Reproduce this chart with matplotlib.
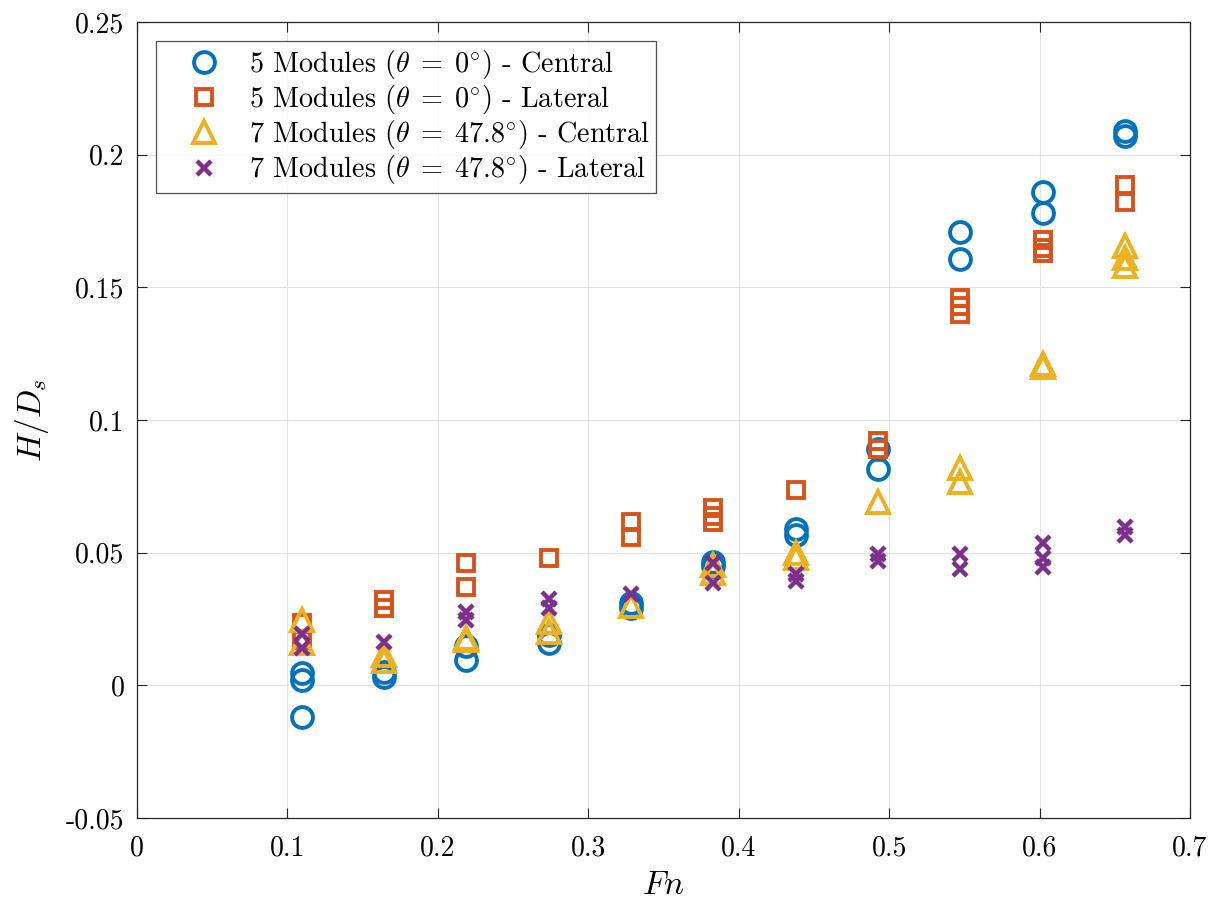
import matplotlib
matplotlib.use('Agg')
import matplotlib.pyplot as plt

plt.rcParams['font.family'] = ['cmr10', 'DejaVu Serif']
plt.rcParams['mathtext.fontset'] = 'cm'
plt.rcParams['axes.unicode_minus'] = False

# Froude numbers
fn = [0.1095, 0.1642, 0.219, 0.2737, 0.3284, 0.3832, 0.4379, 0.4926, 0.5474, 0.6021, 0.6568]

# H/Ds values per Fn (repeated runs)
central_5 = [[0.0045, 0.002, -0.012], [0.005, 0.003], [0.0095, 0.015], [0.0188, 0.016],
             [0.029, 0.031], [0.0465, 0.045], [0.059, 0.0565], [0.089, 0.0815],
             [0.1707, 0.1605], [0.186, 0.178], [0.209, 0.207]]
lateral_5 = [[0.0235, 0.017], [0.032, 0.029], [0.046, 0.037], [0.048],
             [0.0615, 0.056], [0.067, 0.064, 0.0615], [0.0735], [0.092, 0.089],
             [0.146, 0.143, 0.140], [0.168, 0.165, 0.163], [0.1885, 0.182]]
central_7 = [[0.0245, 0.016], [0.0115, 0.009], [0.018, 0.017], [0.024, 0.020],
             [0.030], [0.0455, 0.0425], [0.050, 0.048], [0.069],
             [0.082, 0.0765], [0.121, 0.1198], [0.1655, 0.161, 0.158]]
lateral_7 = [[0.0195, 0.014], [0.0163], [0.0276, 0.0245], [0.0325, 0.029],
             [0.0345], [0.046, 0.0385], [0.042, 0.0395], [0.0495, 0.047],
             [0.0495, 0.044], [0.0535, 0.048, 0.0445], [0.0595, 0.0565]]

labels = [r'5 Modules ($\theta\;=\;0^{\circ}$) - Central',
          r'5 Modules ($\theta\;=\;0^{\circ}$) - Lateral',
          r'7 Modules ($\theta\;=\;47.8^{\circ}$) - Central',
          r'7 Modules ($\theta\;=\;47.8^{\circ}$) - Lateral']

xticks = [0, 0.1, 0.2, 0.3, 0.4, 0.5, 0.6, 0.7]
xticklabels = ['0', '0.1', '0.2', '0.3', '0.4', '0.5', '0.6', '0.7']
yticks = [-0.05, 0, 0.05, 0.1, 0.15, 0.2, 0.25]
yticklabels = ['-0.05', '0', '0.05', '0.1', '0.15', '0.2', '0.25']


def flatten(series):
    xs, ys = [], []
    for f, vals in zip(fn, series):
        for v in vals:
            xs.append(f)
            ys.append(v)
    return xs, ys


fig = plt.figure(figsize=(12.2, 9.09), dpi=100)
ax = fig.add_axes([0.1123, 0.1001, 0.8631, 0.8757])

styles = [
    (central_5, dict(marker='o', color='#0072BD', ms=15, mew=2.8)),
    (lateral_5, dict(marker='s', color='#D95319', ms=12, mew=2.8)),
    (central_7, dict(marker='^', color='#EDB120', ms=16, mew=2.8)),
    (lateral_7, dict(marker='x', color='#7E2F8E', ms=9.5, mew=3.2)),
]
for (series, st), lab in zip(styles, labels):
    xs, ys = flatten(series)
    ax.plot(xs, ys, linestyle='none', marker=st['marker'], markersize=st['ms'],
            markerfacecolor='none', markeredgecolor=st['color'],
            markeredgewidth=st['mew'], label=lab)

ax.set_xlim(0, 0.7)
ax.set_ylim(-0.05, 0.25)
ax.set_xticks(xticks)
ax.set_xticklabels(xticklabels)
ax.set_yticks(yticks)
ax.set_yticklabels(yticklabels)
ax.tick_params(direction='in', length=7, width=0.8, labelsize=20,
               top=True, right=True, colors='#262626', labelcolor='black')
ax.tick_params(axis='x', pad=12)
ax.tick_params(axis='y', pad=9)
ax.grid(True, color='#e3e3e3', linewidth=0.8)
ax.set_axisbelow(True)
for sp in ax.spines.values():
    sp.set_color('#262626')
    sp.set_linewidth(0.9)

ax.set_xlabel(r'$Fn$', fontsize=24, labelpad=7)
ax.set_ylabel(r'$H/D_s$', fontsize=24, labelpad=11)

leg = ax.legend(loc='upper left', fontsize=20.3, frameon=True, fancybox=False,
                edgecolor='#262626', borderaxespad=0.69, handletextpad=0.15,
                labelspacing=0.08, borderpad=0.22, handlelength=2.9)
leg.get_frame().set_linewidth(0.9)

fig.savefig('out.png', dpi=100, facecolor='white')
